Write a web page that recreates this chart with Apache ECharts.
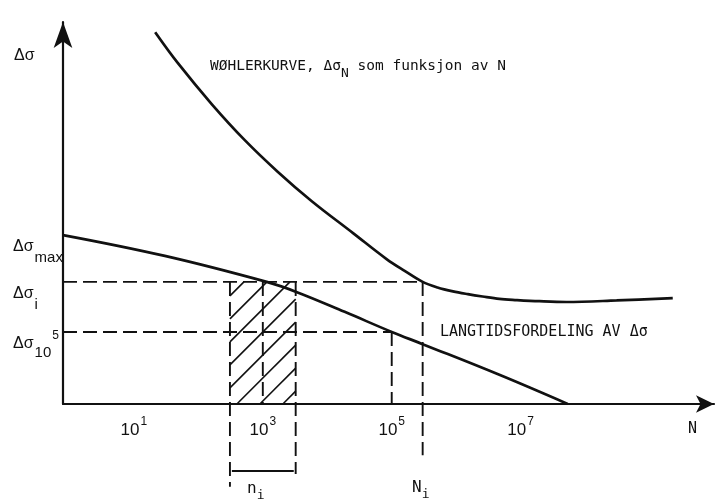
<!DOCTYPE html>
<html><head><meta charset="utf-8">
<script src="https://cdn.jsdelivr.net/npm/echarts@6/dist/echarts.min.js"></script>
<style>html,body{margin:0;padding:0;background:#fff}#c{width:723px;height:503px}</style>
</head><body><div id="c"></div>
<script>
// x values are log10(N); y values are stress range Δσ (arbitrary units)
const wohlerLogN   = [1.33, 1.68, 2.21, 2.72, 3.23, 3.76, 4.40, 4.92, 5.20, 5.48, 5.71, 5.95, 6.18, 6.41, 6.67, 6.94, 7.29, 7.71, 8.49, 9.36];
const wohlerStress = [94.4, 86.6, 76.1, 67.0, 59.0, 51.5, 43.4, 36.8, 33.8, 31.0, 29.6, 28.6, 27.9, 27.3, 26.7, 26.4, 26.1, 25.9, 26.3, 26.9];
const spectrumLogN   = [-0.1, 1.48, 3.06, 3.53, 4.27, 5.0, 5.48, 6.67, 7.73];
const spectrumStress = [42.9, 37.6, 31.0, 28.4, 23.4, 18.3, 15.2, 7.4, 0];
const xTickValues = [1, 3, 5, 7];
const xTickExponents = ['1', '3', '5', '7'];
const dSmax = 42.9, dSi = 31.0, dS1e5 = 18.3;
const yTickValues = [dS1e5, dSi, dSmax];
const Ni = 5.48, niLo = 2.49, niMid = 3.0, niHi = 3.51, N1e5 = 5.0;

const ink = '#111';
const X_MIN = -0.1, X_MAX = 10, Y_MIN = 0, Y_MAX = 97;
const zip = (a, b) => a.map((v, i) => [v, b[i]]);
const dashStyle = {type: [14, 6], width: 1.9, color: ink};
function seg(pts, style) {
  return {type: 'line', data: pts, symbol: 'none', clip: false, silent: true, lineStyle: style, z: 2};
}
const mono = 'DejaVu Sans Mono', sans = 'Liberation Sans';

const chart = echarts.init(document.getElementById('c'), null, {renderer: 'canvas'});
chart.setOption({
  animation: false,
  backgroundColor: '#fff',
  grid: {left: 63, right: 9, top: 22, bottom: 99, containLabel: false},
  xAxis: {
    type: 'value', min: X_MIN, max: X_MAX,
    axisLine: {show: true, onZero: false, symbol: ['none', 'arrow'], symbolSize: [13, 18], lineStyle: {color: ink, width: 2.2}},
    axisTick: {show: false}, splitLine: {show: false},
    axisLabel: {
      customValues: xTickValues, margin: 12, color: ink, fontSize: 17, fontFamily: sans,
      formatter: v => '{b|10}{s|' + xTickExponents[xTickValues.indexOf(v)] + '}',
      rich: {
        b: {fontSize: 17, fontFamily: sans, color: ink, lineHeight: 19, padding: [6, 0, 0, 0], verticalAlign: 'top'},
        s: {fontSize: 12, fontFamily: sans, color: ink, lineHeight: 13, padding: [0, 0, 0, 1], verticalAlign: 'top'}
      }
    }
  },
  yAxis: {
    type: 'value', min: Y_MIN, max: Y_MAX,
    axisLine: {show: true, onZero: false, symbol: ['none', 'arrow'], symbolSize: [14, 26], lineStyle: {color: ink, width: 2.2}},
    axisTick: {show: false}, splitLine: {show: false},
    axisLabel: {
      customValues: yTickValues, margin: 50, align: 'left', color: ink, fontFamily: sans,
      formatter: v => v === dSmax ? '{m|Δσ}{sb|max}' : (v === dSi ? '{m|Δσ}{sb|i}' : '{m|Δσ}{s10|10}{sp|5}'),
      rich: {
        m:   {fontSize: 16, fontFamily: sans, color: ink, lineHeight: 18, padding: [13, 0, 0, 0], verticalAlign: 'top'},
        sb:  {fontSize: 15, fontFamily: sans, color: ink, lineHeight: 12, padding: [24, 0, 0, 1], verticalAlign: 'top'},
        s10: {fontSize: 15, fontFamily: sans, color: ink, lineHeight: 12, padding: [22, 0, 0, 1], verticalAlign: 'top'},
        sp:  {fontSize: 12, fontFamily: sans, color: ink, lineHeight: 12, padding: [7, 0, 0, 1], verticalAlign: 'top'}
      }
    }
  },
  series: [
    {type: 'line', name: 'Wöhler', data: zip(wohlerLogN, wohlerStress), smooth: 0.35, symbol: 'none', lineStyle: {color: ink, width: 2.7}, z: 3},
    {type: 'line', name: 'Langtidsfordeling', data: zip(spectrumLogN, spectrumStress), smooth: 0.4, symbol: 'none', lineStyle: {color: ink, width: 2.7}, z: 3},
    seg([[X_MIN, dSi], [Ni, dSi]], dashStyle),
    seg([[Ni, dSi], [Ni, -13]], dashStyle),
    seg([[X_MIN, dS1e5], [N1e5, dS1e5]], dashStyle),
    seg([[N1e5, dS1e5], [N1e5, 0]], dashStyle),
    seg([[niLo, dSi], [niLo, -21]], dashStyle),
    seg([[niMid, dSi], [niMid, 0]], dashStyle),
    seg([[niHi, dSi], [niHi, -17.8]], dashStyle),
    seg([[2.52, -17], [3.48, -17]], {type: 'solid', width: 2, color: ink}),
    {
      type: 'custom', silent: true, z: 1,
      data: [[niLo, niHi, dSi]],
      encode: {x: [0, 1], y: 2},
      renderItem: function (params, api) {
        const a = api.coord([api.value(0), api.value(2)]);
        const b = api.coord([api.value(1), 0]);
        const L = a[0], T = a[1], R = b[0], B = b[1];
        const children = [];
        for (let c = L + T + 14; c < R + B; c += 23) {
          const xa = Math.max(L, c - B), xb = Math.min(R, c - T);
          if (xb > xa) children.push({type: 'line', shape: {x1: xa, y1: c - xa, x2: xb, y2: c - xb}, style: {stroke: ink, lineWidth: 1.6}});
        }
        return {type: 'group', children: children};
      }
    }
  ],
  graphic: [
    {type: 'text', left: 14, top: 48, style: {text: 'Δσ', fontSize: 16, fontFamily: sans, fill: ink}},
    {type: 'text', left: 210, top: 59, style: {
      text: '{m|WØHLERKURVE, Δσ}{s|N}{m| som funksjon av N}',
      rich: {
        m: {fontSize: 14.5, fontFamily: mono, fill: ink, lineHeight: 17, verticalAlign: 'top'},
        s: {fontSize: 13, fontFamily: mono, fill: ink, lineHeight: 13, padding: [8, 0, 0, 0], verticalAlign: 'top'}
      }}},
    {type: 'text', left: 440, top: 325, style: {text: 'LANGTIDSFORDELING AV Δσ', fontSize: 15, fontFamily: mono, fill: ink}},
    {type: 'text', left: 688, top: 422, style: {text: 'N', fontSize: 15, fontFamily: mono, fill: ink}},
    {type: 'text', left: 247, top: 481, style: {
      text: '{m|n}{s|i}',
      rich: {
        m: {fontSize: 16, fontFamily: mono, fill: ink, lineHeight: 17, verticalAlign: 'top'},
        s: {fontSize: 13, fontFamily: mono, fill: ink, lineHeight: 13, padding: [8, 0, 0, 0], verticalAlign: 'top'}
      }}},
    {type: 'text', left: 412, top: 480, style: {
      text: '{m|N}{s|i}',
      rich: {
        m: {fontSize: 16, fontFamily: mono, fill: ink, lineHeight: 17, verticalAlign: 'top'},
        s: {fontSize: 13, fontFamily: mono, fill: ink, lineHeight: 13, padding: [8, 0, 0, 0], verticalAlign: 'top'}
      }}}
  ]
});
</script>
</body></html>
